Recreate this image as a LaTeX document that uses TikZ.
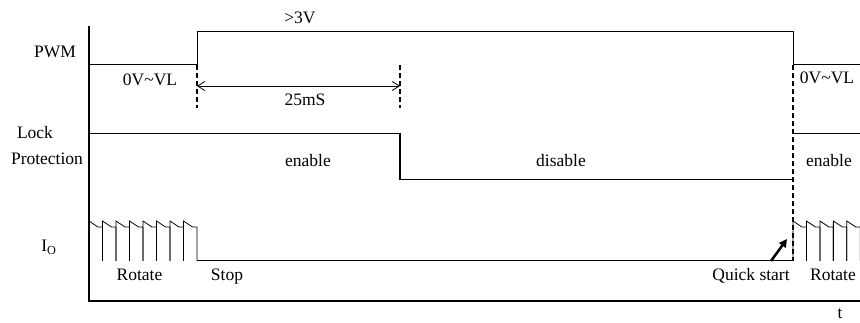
\documentclass[tikz,border=0pt]{standalone}
\usepackage{fontspec}
\setmainfont{Liberation Serif}
\usetikzlibrary{arrows.meta}
\tikzset{
	signal/.style = {line width=1pt},
	axisline/.style = {line width=2pt},
	marker/.style = {line width=2pt, dash pattern=on 5pt off 3pt},
	lbl/.style = {anchor=base, inner sep=0pt, font=\fontsize{17.5}{20}\selectfont},
}
\def\vlow{65}
\def\vhigh{32}
\begin{document}
\begin{tikzpicture}[x=1pt, y=-1pt]
	\useasboundingbox (0,0) rectangle (860,323);
	% axes
	\draw[axisline] (89,26) -- (89,301) -- (860,301);
	% PWM
	\draw[signal] (89,\vlow) -- (197,\vlow) -- (197,\vhigh) -- (793,\vhigh) -- (793,\vlow) -- (860,\vlow);
	\draw[marker] (197,\vlow) -- (197,108);
	\draw[marker] (400,\vlow) -- (400,108);
	\draw[marker] (793,\vlow) -- (793,261);
	\coordinate (t0) at (197,86);
	\coordinate (t1) at (400,86);
	\draw[line width=0.8pt, {Straight Barb[length=7pt,width=9pt]}-{Straight Barb[length=7pt,width=9pt]}] (t0) -- (t1);
	% lock protection
	\draw[signal] (89,134) -- (400,134);
	\draw[line width=1.6pt] (400,133.5) -- (400,180);
	\draw[signal] (400,180) -- (793,180);
	\draw[signal] (793,134) -- (860,134);
	% output current
	\foreach \i in {0,...,7}
		\draw[line width=0.8pt] (89+13.5*\i,261) -- ++(0,-40) -- ++(9,6) -- ++(4.5,0) -- ++(0,34);
	\draw[signal] (197,261) -- (793,261);
	\foreach \i in {0,...,4}
		\draw[line width=0.8pt] (793+13.45*\i,261) -- ++(0,-40) -- ++(9,6) -- ++(4.45,0) -- ++(0,34);
	\coordinate (qa) at (771,261);
	\coordinate (qb) at (787,239);
	\draw[line width=2.5pt, -{Triangle[length=8pt,width=8pt]}] (qa) -- (qb);
	% labels
	\node[lbl] (pwm) at (55,58) {PWM};
	\node[lbl] (high) at (300,24) {>3V};
	\node[lbl] (lowa) at (150,86) {0V\textasciitilde VL};
	\node[lbl] (lowb) at (827,84) {0V\textasciitilde VL};
	\node[lbl] (delay) at (305,106) {25mS};
	\node[lbl] (lock) at (35,139) {Lock};
	\node[lbl] (prot) at (47,165) {Protection};
	\node[lbl] (ena) at (308,167) {enable};
	\node[lbl] (dis) at (561,167) {disable};
	\node[lbl] (enb) at (829,167) {enable};
	\node[lbl] (io) at (49,252) {I\textsubscript{O}};
	\node[lbl] (rota) at (139.5,280) {Rotate};
	\node[lbl] (stop) at (227,280) {Stop};
	\node[lbl] (quick) at (751,280) {Quick start};
	\node[lbl] (rotb) at (833,280) {Rotate};
	\node[lbl] (time) at (840,319) {t};
\end{tikzpicture}
\end{document}
